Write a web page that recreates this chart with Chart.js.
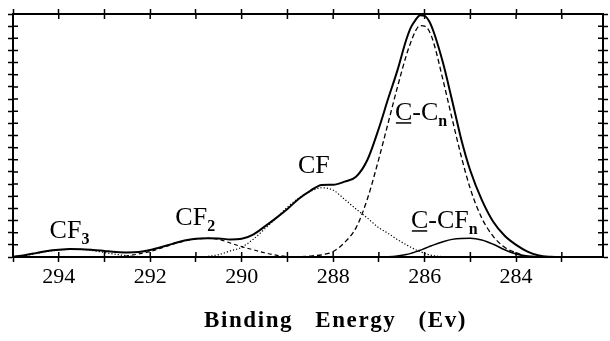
<!DOCTYPE html>
<html>
<head>
<meta charset="utf-8">
<title>C 1s XPS</title>
<script src="https://cdn.jsdelivr.net/npm/chart.js@4.4.0/dist/chart.umd.min.js"></script>
<style>
  html, body { margin: 0; padding: 0; background: #fff; }
  #wrap { width: 610px; height: 341px; }
</style>
</head>
<body>
<div id="wrap"><canvas id="xps" width="610" height="341"></canvas></div>
<script>
// binding energy grid (eV), tighter steps around the main C-C peak
var energy = [295, 294.75, 294.5, 294.25, 294, 293.75, 293.5, 293.25, 293, 292.75,
  292.5, 292.25, 292, 291.75, 291.5, 291.25, 291, 290.75, 290.5, 290.25,
  290, 289.75, 289.5, 289.25, 289, 288.75, 288.5, 288.25, 288, 287.75,
  287.5, 287.25, 287, 286.8, 286.6, 286.4, 286.3, 286.2, 286.1, 286.0,
  285.9, 285.8, 285.6, 285.4, 285.2, 285.0, 284.75, 284.5, 284.25, 284,
  283.75, 283.5, 283.25, 283, 282.5];

// measured envelope
var total = [0.02, 0.15, 0.32, 0.5, 0.6, 0.65, 0.64, 0.58, 0.5, 0.42,
  0.38, 0.42, 0.58, 0.82, 1.1, 1.35, 1.5, 1.55, 1.53, 1.45,
  1.5, 1.85, 2.5, 3.2, 3.95, 4.8, 5.45, 5.93, 5.95, 6.2,
  6.6, 8.0, 10.6, 13.0, 15.3, 17.9, 18.9, 19.5, 19.9, 19.85,
  19.4, 18.5, 16.0, 12.9, 9.7, 7.1, 4.7, 2.9, 1.75, 1.0,
  0.45, 0.12, 0.02, 0, 0];

// fitted components
var cf3 = [0.02, 0.12, 0.28, 0.45, 0.57, 0.63, 0.62, 0.52, 0.37, 0.22,
  0.1, 0.04, 0.01, 0, 0, 0, 0, 0, 0, 0,
  0, 0, 0, 0, 0, 0, 0, 0, 0, 0,
  0, 0, 0, 0, 0, 0, 0, 0, 0, 0,
  0, 0, 0, 0, 0, 0, 0, 0, 0, 0,
  0, 0, 0, 0, 0];
var cf2 = [0, 0, 0, 0, 0, 0, 0, 0, 0, 0.03,
  0.1, 0.25, 0.45, 0.75, 1.05, 1.32, 1.48, 1.53, 1.45, 1.15,
  0.85, 0.6, 0.35, 0.15, 0.05, 0, 0, 0, 0, 0,
  0, 0, 0, 0, 0, 0, 0, 0, 0, 0,
  0, 0, 0, 0, 0, 0, 0, 0, 0, 0,
  0, 0, 0, 0, 0];
var cf = [0, 0, 0, 0, 0, 0, 0, 0, 0, 0,
  0, 0, 0, 0, 0, 0, 0, 0.05, 0.2, 0.5,
  0.8, 1.45, 2.3, 3.2, 4.1, 4.85, 5.4, 5.7, 5.5, 4.75,
  3.95, 3.2, 2.4, 1.95, 1.45, 1.0, 0.8, 0.6, 0.45, 0.3,
  0.18, 0.1, 0.03, 0, 0, 0, 0, 0, 0, 0,
  0, 0, 0, 0, 0];
var cCn = [0, 0, 0, 0, 0, 0, 0, 0, 0, 0,
  0, 0, 0, 0, 0, 0, 0, 0, 0, 0,
  0, 0, 0, 0, 0, 0.03, 0.08, 0.18, 0.45, 1.2,
  2.4, 4.8, 8.1, 11.0, 13.9, 16.6, 17.7, 18.6, 19.05, 19.0,
  18.6, 17.6, 14.6, 11.4, 8.3, 5.6, 3.2, 1.7, 0.8, 0.35,
  0.05, 0, 0, 0, 0];
var cCFn = [0, 0, 0, 0, 0, 0, 0, 0, 0, 0,
  0, 0, 0, 0, 0, 0, 0, 0, 0, 0,
  0, 0, 0, 0, 0, 0, 0, 0, 0, 0,
  0, 0, 0, 0.02, 0.08, 0.2, 0.3, 0.42, 0.55, 0.7,
  0.85, 1.0, 1.25, 1.45, 1.53, 1.54, 1.4, 1.05, 0.6, 0.25,
  0.08, 0.02, 0, 0, 0];

var xLabels = [294, 292, 290, 288, 286, 284];

function pts(vals) {
  return energy.map(function (e, i) { return { x: e, y: vals[i] }; });
}

function line(vals, width, dash) {
  return {
    data: pts(vals),
    borderColor: '#000',
    borderWidth: width,
    borderDash: dash,
    pointRadius: 0,
    fill: false,
    cubicInterpolationMode: 'monotone'
  };
}

// tick marks pointing into the plot (Chart.js only draws the outer half)
var innerTicks = {
  id: 'innerTicks',
  afterDraw: function (chart) {
    var ctx = chart.ctx, a = chart.chartArea;
    var sx = chart.scales.x, sy = chart.scales.y;
    ctx.save();
    ctx.strokeStyle = '#000';
    ctx.lineWidth = 1.5;
    ctx.beginPath();
    sx.ticks.forEach(function (t) {
      var px = sx.getPixelForValue(t.value);
      ctx.moveTo(px, a.bottom); ctx.lineTo(px, a.bottom - 5);
      ctx.moveTo(px, a.top); ctx.lineTo(px, a.top + 5);
    });
    sy.ticks.forEach(function (t) {
      var py = sy.getPixelForValue(t.value);
      ctx.moveTo(a.left, py); ctx.lineTo(a.left + 5, py);
      ctx.moveTo(a.right, py); ctx.lineTo(a.right - 5, py);
    });
    ctx.stroke();
    ctx.restore();
  }
};

// peak names written next to each component
var peakNames = {
  id: 'peakNames',
  afterDraw: function (chart) {
    var ctx = chart.ctx, sx = chart.scales.x, sy = chart.scales.y;
    var names = [
      { main: 'CF', sub: '3', e: 294.2, v: 1.56 },
      { main: 'CF', sub: '2', e: 291.45, v: 2.63 },
      { main: 'CF', sub: '', e: 288.77, v: 6.91 },
      { main: 'C-C', sub: 'n', e: 286.65, v: 11.28, under: true },
      { main: 'C-CF', sub: 'n', e: 286.3, v: 2.39, under: true }
    ];
    ctx.save();
    ctx.fillStyle = '#000';
    ctx.strokeStyle = '#000';
    ctx.textBaseline = 'alphabetic';
    ctx.textAlign = 'left';
    names.forEach(function (n) {
      var x = sx.getPixelForValue(n.e), y = sy.getPixelForValue(n.v);
      ctx.font = '26px "Liberation Serif"';
      ctx.fillText(n.main, x, y);
      var w = ctx.measureText(n.main).width;
      if (n.under) {
        var cw = ctx.measureText('C').width;
        ctx.lineWidth = 1.5;
        ctx.beginPath();
        ctx.moveTo(x + 1, y + 3);
        ctx.lineTo(x + cw - 1, y + 3);
        ctx.stroke();
      }
      if (n.sub) {
        ctx.font = 'bold 16px "Liberation Serif"';
        ctx.fillText(n.sub, x + w, y + 6);
      }
    });
    // axis caption
    var a = chart.chartArea;
    ctx.font = 'bold 23px "Liberation Serif"';
    ctx.letterSpacing = '1.6px';
    ctx.fillText('Binding   Energy   (Ev)', a.left + 191, 327);
    ctx.restore();
  }
};

var gridOpts = { drawOnChartArea: false, tickLength: 5, tickWidth: 1.5, tickColor: '#000' };
var borderOpts = { display: true, color: '#000', width: 2 };

new Chart(document.getElementById('xps'), {
  type: 'line',
  data: {
    datasets: [
      line(total, 2, []),
      line(cCn, 1.3, [5, 3]),
      line(cf, 1.2, [1.2, 2]),
      line(cf2, 1.2, [4, 3]),
      line(cf3, 1.2, [1.2, 2]),
      line(cCFn, 1.5, [])
    ]
  },
  options: {
    responsive: false,
    devicePixelRatio: 1,
    animation: false,
    layout: { padding: 0 },
    plugins: { legend: { display: false }, tooltip: { enabled: false } },
    scales: {
      x: {
        type: 'linear', position: 'bottom', reverse: true,
        min: 282.1, max: 295,
        grid: gridOpts, border: borderOpts,
        ticks: {
          stepSize: 1, includeBounds: false, autoSkip: false, maxRotation: 0,
          color: '#000', padding: 2,
          font: { family: 'Liberation Serif', size: 22 },
          callback: function (v) { return xLabels.indexOf(v) >= 0 ? String(v) : ''; }
        },
        afterFit: function (s) { s.height = 84; }
      },
      x2: {
        type: 'linear', position: 'top', reverse: true,
        min: 282.1, max: 295,
        grid: gridOpts, border: borderOpts,
        ticks: { stepSize: 1, includeBounds: false, display: false },
        afterFit: function (s) { s.height = 14; }
      },
      y: {
        type: 'linear', position: 'left', min: 0, max: 20,
        grid: gridOpts, border: borderOpts,
        ticks: { stepSize: 1, display: false },
        afterFit: function (s) { s.width = 13; }
      },
      y2: {
        type: 'linear', position: 'right', min: 0, max: 20,
        grid: gridOpts, border: borderOpts,
        ticks: { stepSize: 1, display: false },
        afterFit: function (s) { s.width = 7; }
      }
    }
  },
  plugins: [innerTicks, peakNames]
});
</script>
</body>
</html>
